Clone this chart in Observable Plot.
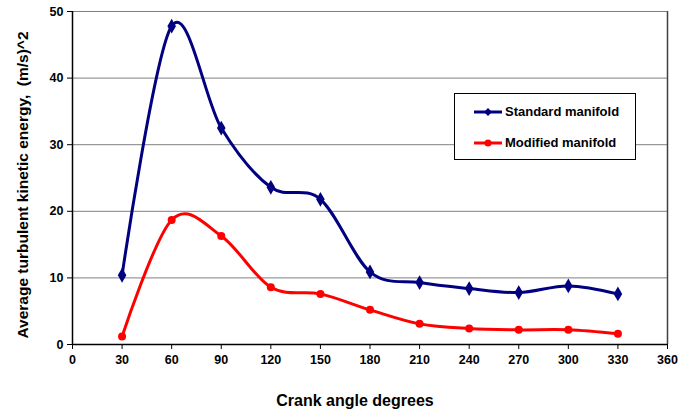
<!DOCTYPE html>
<html>
<head>
<meta charset="utf-8">
<script src="https://cdn.jsdelivr.net/npm/d3@7"></script>
<script src="https://cdn.jsdelivr.net/npm/@observablehq/plot@0.6"></script>
<style>
  html, body { margin: 0; padding: 0; background: #fff; }
  #wrap { position: relative; width: 694px; height: 411px; font-family: "Liberation Sans", Arial, sans-serif; }
  #legend { position: absolute; left: 454px; top: 93px; width: 180px; height: 65px; border: 1px solid #000; background: #fff; box-sizing: content-box; }
  .item { position: absolute; left: 19px; display: flex; align-items: center; font-weight: bold; font-size: 13px; color: #000; }
  .item svg { margin-right: 3px; }
</style>
</head>
<body>
<div id="wrap"></div>
<script>
const angles = [30, 60, 90, 120, 150, 180, 210, 240, 270, 300, 330];
const standard = [10.4, 47.8, 32.5, 23.6, 21.8, 10.9, 9.3, 8.4, 7.8, 8.8, 7.6];
const modified = [1.2, 18.7, 16.3, 8.6, 7.6, 5.2, 3.1, 2.4, 2.2, 2.2, 1.6];
const seriesNames = ["Standard manifold", "Modified manifold"];
const seriesColors = ["#000080", "#FF0000"];
const xTicks = [0, 30, 60, 90, 120, 150, 180, 210, 240, 270, 300, 330, 360];
const yTicks = [0, 10, 20, 30, 40, 50];
const gridY = [10, 20, 30, 40, 50];
const xLabel = "Crank angle degrees";
const yLabel = "Average turbulent kinetic energy,  (m/s)^2";

const stdData = angles.map((a, i) => ({x: a, y: standard[i]}));
const modData = angles.map((a, i) => ({x: a, y: modified[i]}));

const chart = Plot.plot({
  width: 694,
  height: 411,
  marginLeft: 72,
  marginRight: 27,
  marginTop: 11,
  marginBottom: 67,
  style: {fontFamily: "Liberation Sans, Arial, sans-serif", fontSize: "12.5px", fontWeight: "bold", color: "#000", background: "#fff", overflow: "visible"},
  x: {domain: [0, 360]},
  y: {domain: [0, 50]},
  marks: [
    Plot.ruleY(gridY, {stroke: "#808080", strokeWidth: 1}),
    Plot.ruleX([360], {stroke: "#404040", strokeWidth: 1.5}),
    Plot.axisX({ticks: xTicks, tickSize: 5, tickPadding: 6, label: null, stroke: "#000", fill: "#000"}),
    Plot.axisY({ticks: yTicks, tickSize: 5, tickPadding: 4, label: null, stroke: "#000", fill: "#000"}),
    Plot.ruleY([0], {stroke: "#000", strokeWidth: 1.5}),
    Plot.ruleX([0], {stroke: "#000", strokeWidth: 1.5}),
    Plot.line(stdData, {x: "x", y: "y", stroke: seriesColors[0], strokeWidth: 3, curve: "cardinal"}),
    Plot.dot(stdData, {x: "x", y: "y", symbol: "diamond", r: 4.5, fill: seriesColors[0], stroke: "none"}),
    Plot.line(modData, {x: "x", y: "y", stroke: seriesColors[1], strokeWidth: 3, curve: "cardinal"}),
    Plot.dot(modData, {x: "x", y: "y", symbol: "circle", r: 4, fill: seriesColors[1], stroke: "none"}),
    Plot.text([xLabel], {frameAnchor: "bottom", textAnchor: "middle", lineAnchor: "middle", dx: -15, dy: 56, fontSize: 16, fontWeight: "bold", fill: "#000"}),
    Plot.text([yLabel], {frameAnchor: "left", textAnchor: "middle", lineAnchor: "middle", rotate: -90, dx: -49, dy: 7, fontSize: 15.5, fontWeight: "bold", fill: "#000"})
  ]
});
document.getElementById("wrap").appendChild(chart);

// legend
const legend = document.createElement("div");
legend.id = "legend";
seriesNames.forEach((name, i) => {
  const item = document.createElement("div");
  item.className = "item";
  item.style.top = (i === 0 ? 10 : 41) + "px";
  const sym = i === 0
    ? '<path d="M14,3 L18,7 L14,11 L10,7 Z" fill="' + seriesColors[i] + '"/>'
    : '<circle cx="14" cy="7" r="3.5" fill="' + seriesColors[i] + '"/>';
  item.innerHTML = '<svg width="28" height="14"><line x1="0" x2="28" y1="7" y2="7" stroke="' + seriesColors[i] + '" stroke-width="3"/>' + sym + '</svg><span>' + name + '</span>';
  legend.appendChild(item);
});
document.getElementById("wrap").appendChild(legend);
</script>
</body>
</html>
